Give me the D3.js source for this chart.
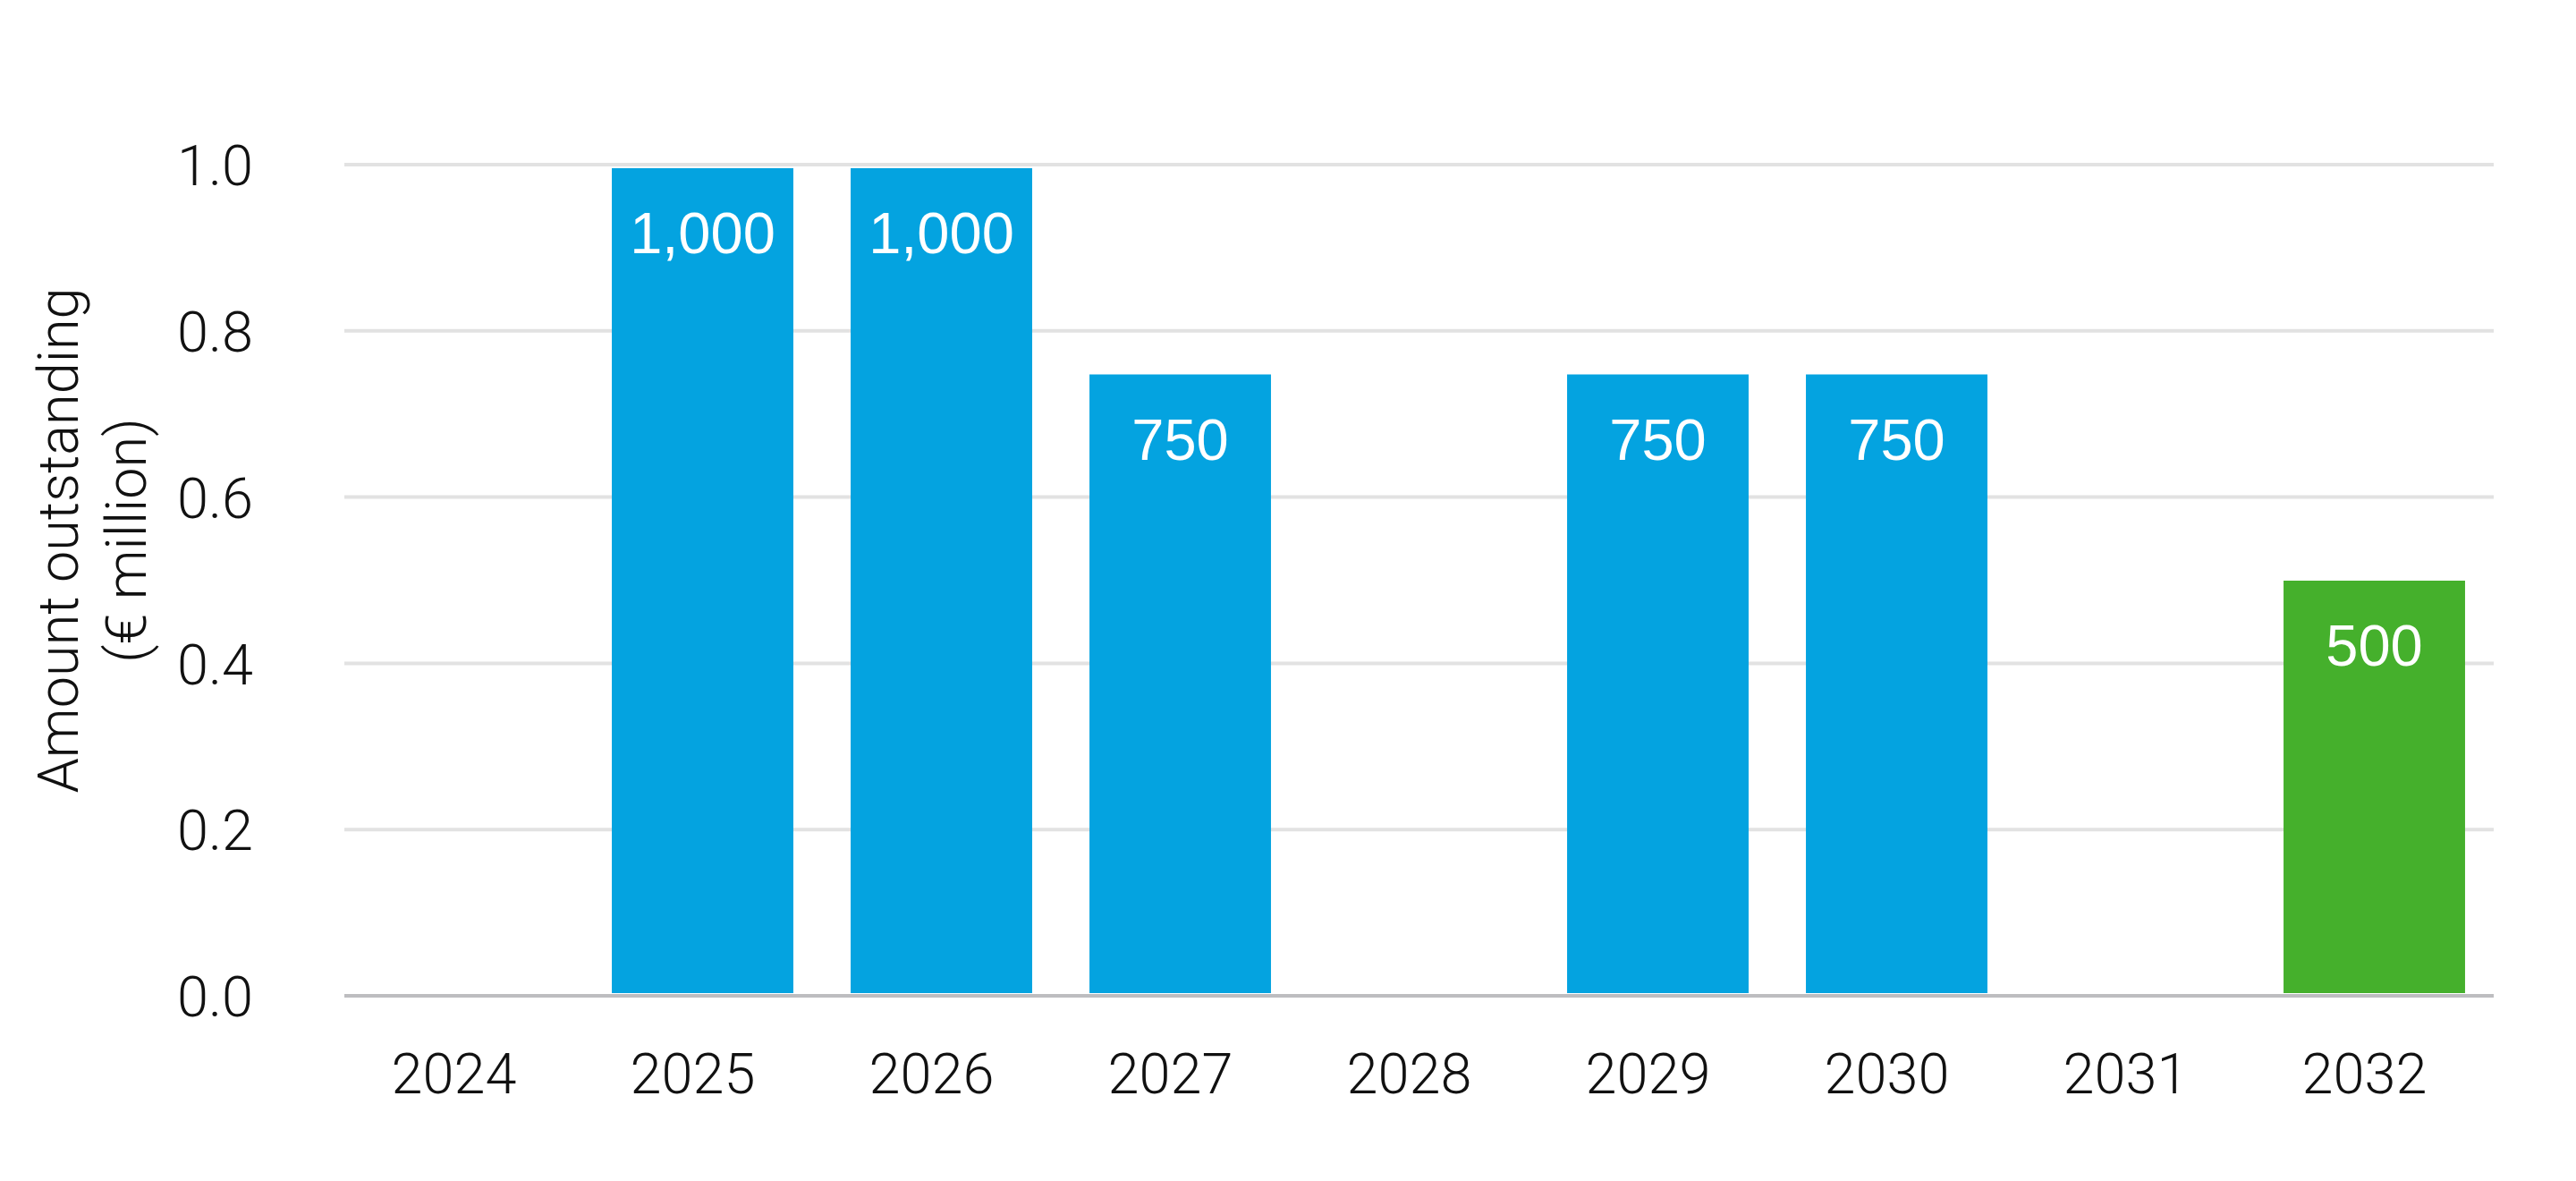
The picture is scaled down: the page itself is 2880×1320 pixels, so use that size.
<!DOCTYPE html>
<html>
<head>
<meta charset="utf-8">
<script src="https://cdn.jsdelivr.net/npm/d3@7"></script>
<style>
  html, body { margin: 0; padding: 0; background: #fff; }
  svg { display: block; }
</style>
</head>
<body>
<svg id="chart" width="2880" height="1320"></svg>
<script>
const years = ["2024", "2025", "2026", "2027", "2028", "2029", "2030", "2031", "2032"];
const amounts = [0, 1000, 1000, 750, 0, 750, 750, 0, 500];          // € million
const bondTypes = ["", "conventional", "conventional", "conventional", "", "conventional", "conventional", "", "green"];
const yTicks = [0, 0.2, 0.4, 0.6, 0.8, 1.0];
const yTitleLines = ["Amount outstanding", "(€ million)"];

const colors = { conventional: "#04a3e0", green: "#45b02c" };
const plotLeft = 385, plotRight = 2788, plotTop = 184, plotBottom = 1113;
const axisFont = "'Roboto', 'Helvetica Neue', Arial, sans-serif";
const axisSize = 63;

const svg = d3.select("#chart");

const x = d3.scaleBand().domain(years).range([plotLeft, plotRight]).paddingInner(0.24).paddingOuter(0.12);
const y = d3.scaleLinear().domain([0, 1]).range([plotBottom, plotTop]);
// bars are drawn slightly inset (white outline look)
const yBar = d3.scaleLinear().domain([0, 1]).range([plotBottom - 3, plotTop + 4]);

// gridlines
svg.append("g").selectAll("line").data(yTicks.filter(d => d > 0)).join("line")
  .attr("x1", plotLeft).attr("x2", plotRight)
  .attr("y1", d => y(d)).attr("y2", d => y(d))
  .attr("stroke", "#e2e2e2").attr("stroke-width", 4);

// y axis labels
const yAxis = d3.axisLeft(y).tickValues(yTicks).tickFormat(d3.format(".1f")).tickSize(0).tickPadding(0);
const gy = svg.append("g").attr("transform", `translate(${283},0)`).call(yAxis);
gy.select(".domain").remove();
gy.selectAll("text")
  .attr("font-family", axisFont).attr("font-weight", 300)
  .attr("font-size", axisSize).attr("fill", "#111").attr("dy", "0.36em");

// bars
const data = years.map((yr, i) => ({ year: yr, value: amounts[i], type: bondTypes[i] }));
svg.append("g").selectAll("rect").data(data.filter(d => d.value > 0)).join("rect")
  .attr("x", d => x(d.year))
  .attr("width", x.bandwidth())
  .attr("y", d => yBar(d.value / 1000))
  .attr("height", d => yBar(0) - yBar(d.value / 1000))
  .attr("fill", d => colors[d.type]);

// value labels
svg.append("g").selectAll("text").data(data.filter(d => d.value > 0)).join("text")
  .attr("x", d => x(d.year) + x.bandwidth() / 2)
  .attr("y", d => yBar(d.value / 1000) + 95)
  .attr("text-anchor", "middle")
  .attr("font-family", "'Liberation Sans', Arial, sans-serif")
  .attr("font-size", 65).attr("fill", "#fff")
  .text(d => d3.format(",")(d.value));

// baseline
svg.append("line")
  .attr("x1", plotLeft).attr("x2", plotRight)
  .attr("y1", y(0)).attr("y2", y(0))
  .attr("stroke", "#bdbdc0").attr("stroke-width", 4);

// x axis labels
const xAxis = d3.axisBottom(x).tickSize(0).tickPadding(0);
const gx = svg.append("g").attr("transform", `translate(-11,${1222})`).call(xAxis);
gx.select(".domain").remove();
gx.selectAll("text")
  .attr("font-family", axisFont).attr("font-weight", 300)
  .attr("font-size", axisSize).attr("fill", "#111").attr("dy", 0);

// y title
const title = svg.append("text")
  .attr("transform", `translate(87,${604}) rotate(-90)`)
  .attr("text-anchor", "middle")
  .attr("font-family", axisFont).attr("font-weight", 300)
  .attr("font-size", axisSize).attr("fill", "#111");
title.selectAll("tspan").data(yTitleLines).join("tspan")
  .attr("x", 0).attr("y", (d, i) => i * 76)
  .text(d => d);
</script>
</body>
</html>
